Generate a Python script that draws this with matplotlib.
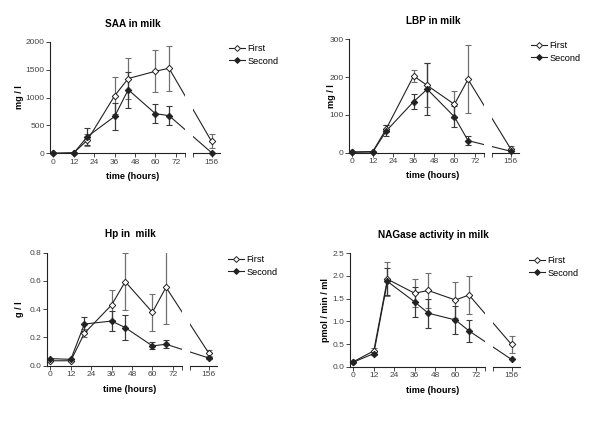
import numpy as np
import matplotlib.pyplot as plt
from matplotlib.lines import Line2D

plt.rcParams['font.family'] = ['Liberation Sans', 'DejaVu Sans']

# sampling times (hours after challenge)
hours = np.array([0, 12, 20, 36, 44, 60, 68, 156])

# SAA in milk (mg / l)
saa_first = [0, 10, 235, 1030, 1340, 1470, 1525, 215]
saa_first_err = [0, 0, 110, 330, 360, 375, 405, 125]
saa_second = [0, 5, 300, 660, 1140, 710, 675, 12]
saa_second_err = [0, 0, 160, 240, 320, 170, 165, 0]

# LBP in milk (mg / l)
lbp_first = [2, 3, 64, 203, 178, 128, 194, 11]
lbp_first_err = [0, 0, 10, 17, 58, 36, 90, 6]
lbp_second = [1, 2, 58, 135, 168, 95, 32, 4]
lbp_second_err = [0, 0, 15, 20, 68, 28, 12, 0]

# Hp in milk (g / l)
hp_first = [0.035, 0.035, 0.23, 0.43, 0.595, 0.378, 0.555, 0.092]
hp_first_err = [0, 0, 0.03, 0.105, 0.2, 0.13, 0.26, 0.02]
hp_second = [0.05, 0.045, 0.295, 0.316, 0.27, 0.14, 0.152, 0.055]
hp_second_err = [0, 0, 0.05, 0.07, 0.09, 0.025, 0.027, 0.01]

# NAGase activity in milk (pmol / min / ml)
nag_first = [0.11, 0.35, 1.93, 1.62, 1.68, 1.47, 1.58, 0.49]
nag_first_err = [0, 0.06, 0.37, 0.31, 0.38, 0.40, 0.42, 0.18]
nag_second = [0.10, 0.29, 1.88, 1.43, 1.18, 1.03, 0.79, 0.16]
nag_second_err = [0, 0.04, 0.30, 0.33, 0.32, 0.30, 0.24, 0]

W, H = 600, 424
fig = plt.figure(figsize=(W / 100, H / 100), dpi=100)

DARK = '#222222'
TICK = '#444444'


def squeeze(t):
    # broken time axis: late samples are pulled in next to the first segment
    t = np.asarray(t, dtype=float)
    return np.where(t > 100, t - 63, t)


def draw_panel(x0, top, bottom, title, ylabel, ymax, yticks, fmt,
               first, first_err, second, second_err,
               title_xy, xlabel_y, ylabel_x, legend_xy):
    h = bottom - top
    axL = fig.add_axes([x0 / W, 1 - bottom / H, 135 / W, h / H])
    axR = fig.add_axes([(x0 + 143) / W, 1 - bottom / H, 27 / W, h / H])
    axL.set_xlim(-2, 77.4)
    axR.set_xlim(82.1, 98)

    x = squeeze(hours)
    series = [(first, first_err, 'white', '#707070'),
              (second, second_err, DARK, '#3a3a3a')]
    for ax, (lo, hi) in ((axL, (-3, 78)), (axR, (80, 99))):
        ax.set_ylim(0, ymax)
        ax.patch.set_visible(False)
        for s in ('top', 'right'):
            ax.spines[s].set_visible(False)
        for s in ('left', 'bottom'):
            ax.spines[s].set_color(DARK)
            ax.spines[s].set_linewidth(0.8)
        ax.tick_params(direction='out', length=3, width=0.7, colors=TICK,
                       labelsize=6.0, pad=1)
        for y, err, face, ecol in series:
            y = np.asarray(y, dtype=float)
            err = np.asarray(err, dtype=float)
            ax.plot(x, y, '-', color=DARK, lw=0.8, zorder=2)
            m = (x >= lo) & (x <= hi)
            e = m & (err > 0)
            ax.errorbar(x[e], y[e], yerr=err[e], fmt='none', ecolor=ecol,
                        elinewidth=0.9, capsize=2.2, capthick=0.8, zorder=1)
            ax.plot(x[m], y[m], ls='none', marker='D', ms=3.3, mfc=face,
                    mec=DARK, mew=0.7, clip_on=False, zorder=3)

    axL.set_yticks(yticks, [fmt.format(v) for v in yticks])
    ticks = [0, 12, 24, 36, 48, 60, 72]
    axL.set_xticks(ticks + [77.4], [str(t) for t in ticks] + [''])
    axR.spines['left'].set_visible(False)
    axR.tick_params(left=False, labelleft=False)
    axR.set_xticks([82.1, float(squeeze(156))], ['', '156'])

    fig.text(title_xy[0] / W, 1 - title_xy[1] / H, title, ha='center',
             va='center', fontsize=7.2, fontweight='bold')
    fig.text(title_xy[0] / W, 1 - xlabel_y / H, 'time (hours)', ha='center',
             va='center', fontsize=6.6, fontweight='bold')
    fig.text(ylabel_x / W, 1 - (top + bottom) / 2 / H, ylabel, ha='center',
             va='center', rotation=90, fontsize=6.6, fontweight='bold')

    handles = [Line2D([], [], color=DARK, lw=0.8, marker='D', ms=3.0,
                      mfc='white', mec=DARK, mew=0.7),
               Line2D([], [], color=DARK, lw=0.8, marker='D', ms=3.0,
                      mfc=DARK, mec=DARK, mew=0.7)]
    fig.legend(handles, ['First', 'Second'], loc='upper left',
               bbox_to_anchor=(legend_xy[0] / W, 1 - legend_xy[1] / H),
               frameon=False, fontsize=6.6, handlelength=1.7,
               handletextpad=0.3, labelspacing=0.4, borderpad=0,
               borderaxespad=0)


draw_panel(50, 41.7, 153.3, 'SAA in milk', 'mg / l', 2000,
           [0, 500, 1000, 1500, 2000], '{:.0f}',
           saa_first, saa_first_err, saa_second, saa_second_err,
           (133, 24), 176.7, 19, (229, 44))
draw_panel(349, 39.3, 152.7, 'LBP in milk', 'mg / l', 300,
           [0, 100, 200, 300], '{:.0f}',
           lbp_first, lbp_first_err, lbp_second, lbp_second_err,
           (433, 21), 176, 331, (531, 41))
draw_panel(47, 252.7, 365.7, 'Hp in  milk', 'g / l', 0.8,
           [0.0, 0.2, 0.4, 0.6, 0.8], '{:.1f}',
           hp_first, hp_first_err, hp_second, hp_second_err,
           (130, 234), 390, 19, (228, 255))
draw_panel(350, 253.3, 366.7, 'NAGase activity in milk', 'pmol / min / ml', 2.5,
           [0.0, 0.5, 1.0, 1.5, 2.0, 2.5], '{:.1f}',
           nag_first, nag_first_err, nag_second, nag_second_err,
           (433, 235), 390.7, 325, (529, 256))

fig.savefig('out.png', dpi=100)
